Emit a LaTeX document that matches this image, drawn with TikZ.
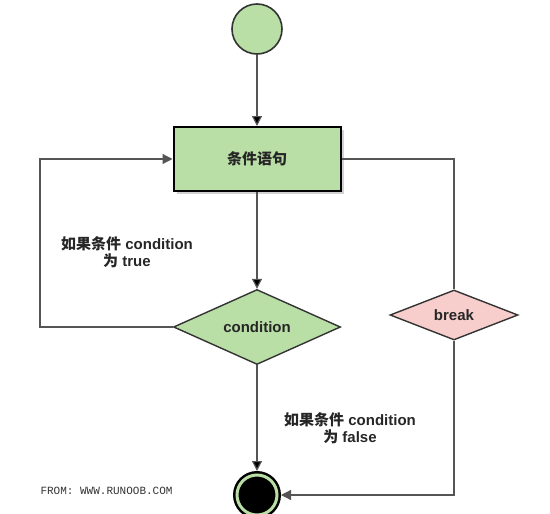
\documentclass[tikz,border=0pt]{standalone}
\usepackage{fontspec}
\setmainfont{Liberation Sans}
\setmonofont{Liberation Mono}
\newfontfamily\cjk{Noto Sans CJK SC}
\usetikzlibrary{shapes.geometric,arrows.meta,shadows,positioning}

\definecolor{flowgreen}{RGB}{185,222,166}
\definecolor{flowpink}{RGB}{248,206,204}
\definecolor{flowline}{RGB}{85,85,85}

\begin{document}
\begin{tikzpicture}[x=1pt,y=-1pt,
    font=\fontsize{15}{17}\selectfont\bfseries, text=black!85,
    start/.style={circle,draw=black!80,line width=1.6pt,fill=flowgreen,minimum size=50pt,inner sep=0pt},
    stmt/.style={rectangle,draw=black,line width=2pt,fill=flowgreen,minimum width=167pt,minimum height=64pt,
                 drop shadow={shadow xshift=3pt,shadow yshift=-3pt,fill=black!35}},
    cond/.style={diamond,draw=black!80,line width=1.4pt,fill=flowgreen,aspect=2.2,minimum width=167pt,minimum height=75pt,inner sep=1pt},
    brk/.style={diamond,draw=black!80,line width=1.4pt,fill=flowpink,aspect=2.5,minimum width=128pt,minimum height=50pt,inner sep=1pt},
    stop/.style={circle,draw=black,line width=2.5pt,double=flowgreen,double distance=3pt,fill=black,minimum size=40pt,inner sep=0pt,outer sep=4pt},
    link/.style={draw=flowline,line width=1.2pt},
    >={Triangle[length=10pt,width=10pt]}]
   \useasboundingbox (0,0) rectangle (550,514);
   \node[start] (s_0) at (257,29) {};
   \node[stmt] (stmt) at (257,159) {\cjk 条件语句};
   \node[cond] (c_0) at (257,327) {condition};
   \node[brk] (b_0) at (454,315) {break};
   \node[stop] (s_1) at (257,495) {};
   \coordinate (lft) at (40,327);

   \node[align=center] (l_true) at (127,252) {{\cjk 如果条件} condition\\{\cjk 为} true};
   \node[align=center] (l_false) at (350,428) {{\cjk 如果条件} condition\\{\cjk 为} false};
   \node[font=\ttfamily\fontsize{11}{12}\selectfont,text=black!80,anchor=west] (from) at (37,491) {FROM: WWW.RUNOOB.COM};

    \path[link,->]
    (s_0) edge (stmt)
    (stmt) edge (c_0)
    (c_0) edge (s_1);
    \draw[link,->] (c_0.west) -- (lft) |- (stmt.west);
    \draw[link] (stmt.east) -| (b_0.north);
    \draw[link,->] (b_0.south) |- (s_1.east);

\end{tikzpicture}
\end{document}
